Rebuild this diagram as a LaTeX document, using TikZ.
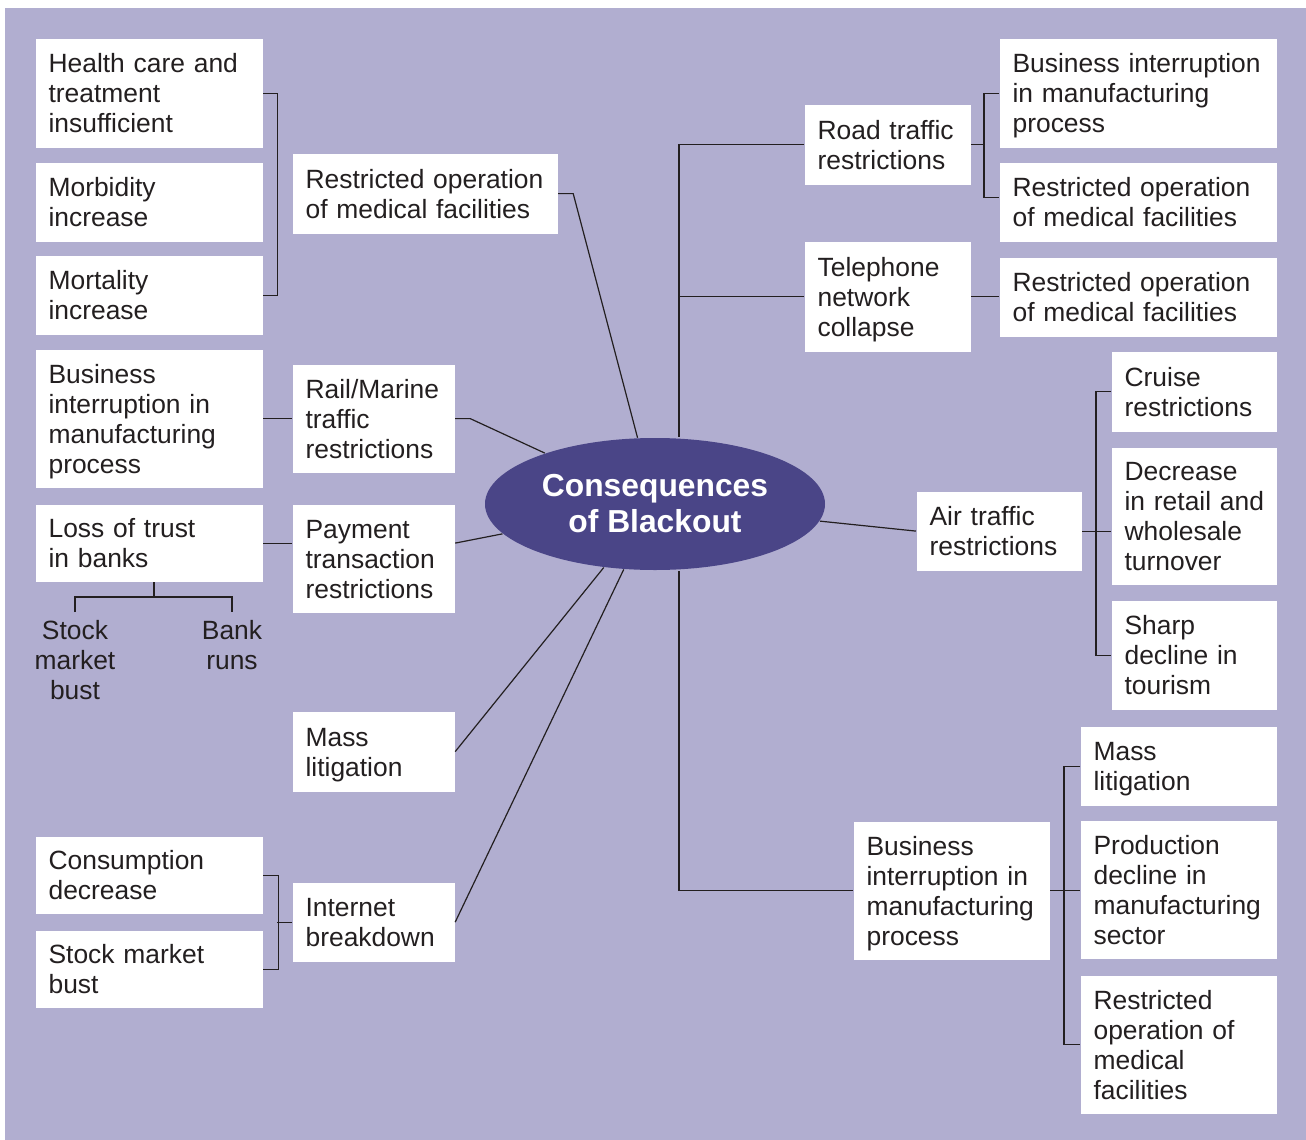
\documentclass[tikz,border=0pt]{standalone}
\usepackage{fontspec}
\setmainfont{Liberation Sans}
\usetikzlibrary{shapes.geometric}
\definecolor{lavender}{RGB}{177,174,208}
\definecolor{deepviolet}{RGB}{74,69,135}
\definecolor{inkgray}{RGB}{35,31,32}
\begin{document}
\begin{tikzpicture}[x=0.5pt,y=-0.5pt,line width=0.6pt,draw=inkgray,
    box/.style={rectangle,fill=white,anchor=north west,align=left,inner xsep=6.5pt,inner ysep=0pt,text=inkgray,font=\fontsize{13.2}{15}\selectfont,
        execute at begin node={\rule{0pt}{12.4pt}},execute at end node={\rule[-3pt]{0pt}{3pt}}},
    two line/.style={minimum height=39.5pt},
    three line/.style={minimum height=54.5pt},
    four line/.style={minimum height=69pt},
    left col/.style={text width=100.5pt},
    mid col/.style={text width=68pt},
    far col/.style={text width=125.5pt},
    leaf/.style={align=center,anchor=north,inner sep=4pt,text=inkgray,font=\fontsize{13.2}{15}\selectfont},
    main node/.style={ellipse,fill=deepviolet,text=white,align=center,inner sep=0pt,minimum width=170pt,minimum height=66pt,font=\fontsize{15.9}{18}\bfseries}]
    \useasboundingbox (0,0) rectangle (1306,1140);
    \fill[lavender] (5,8) rectangle (1306,1140);

    \node[main node] at (655,504) (blackout) {Consequences\\of Blackout};

    % left side
    \node[box,left col,three line] at (35,38) (health) {Health care and\\treatment\\insufficient};
    \node[box,left col,two line] at (35,162) (morb) {Morbidity\\increase};
    \node[box,left col,two line] at (35,255) (mort) {Mortality\\increase};
    \node[box,left col,four line] at (35,349) (biz1) {Business\\interruption in\\manufacturing\\process};
    \node[box,left col,minimum height=38.5pt] at (35,504) (trust) {Loss of trust\\in banks};
    \node[leaf] at (75,612) (stock) {Stock\\market\\bust};
    \node[leaf] at (232,612) (bank) {Bank\\runs};
    \node[box,left col,minimum height=38.5pt] at (35,836) (consum) {Consumption\\decrease};
    \node[box,left col,minimum height=38.5pt] at (35,930) (stockb) {Stock market\\bust};

    \node[box,text width=119.5pt,minimum height=40pt] at (292,153) (rmed0) {Restricted operation\\of medical facilities};
    \node[box,mid col,minimum height=54pt] at (292,364) (rail) {Rail/Marine\\traffic\\restrictions};
    \node[box,mid col,minimum height=54pt] at (292,504) (pay) {Payment\\transaction\\restrictions};
    \node[box,mid col,minimum height=40pt] at (292,711) (mass1) {Mass\\litigation};
    \node[box,mid col,two line] at (292,882) (inet) {Internet\\breakdown};

    % right side
    \node[box,text width=70pt,minimum height=40pt] at (804,104) (road) {Road traffic\\restrictions};
    \node[box,text width=70pt,minimum height=55pt] at (804,241) (tel) {Telephone\\network\\collapse};
    \node[box,far col,three line] at (999,38) (bimp) {Business interruption\\in manufacturing\\process};
    \node[box,far col,two line] at (999,162) (rmed1) {Restricted operation\\of medical facilities};
    \node[box,far col,two line] at (999,257) (rmed2) {Restricted operation\\of medical facilities};
    \node[box,text width=69.5pt,minimum height=40pt] at (1111,351) (cruise) {Cruise\\restrictions};
    \node[box,text width=69.5pt,minimum height=68.5pt] at (1111,447) (dec) {Decrease\\\mbox{in retail and}\\wholesale\\turnover};
    \node[box,text width=69.5pt,three line] at (1111,600) (sharp) {Sharp\\decline in\\tourism};
    \node[box,text width=69.5pt,two line] at (916,491) (air) {Air traffic\\restrictions};
    \node[box,text width=85pt,four line] at (853,821) (biz2) {Business\\interruption in\\manufacturing\\process};
    \node[box,text width=85pt,two line] at (1080,726) (mass2) {Mass\\litigation};
    \node[box,text width=85pt,four line] at (1080,820) (prod) {Production\\decline in\\manufacturing\\sector};
    \node[box,text width=85pt,four line] at (1080,975) (rmed3) {Restricted\\operation of\\medical\\facilities};

    \coordinate (fork) at (154,597);
    \coordinate (trunk) at (679,0);

    % connectors to the centre
    \draw (rmed0.east) -- ++(15,0) -- (blackout);
    \draw (rail.east) -- ++(15,0) -- (blackout);
    \draw (pay.east |- trust.east) -- (blackout);
    \draw (mass1.east) -- (blackout);
    \draw (inet.east) -- (blackout);
    \draw (air.west) -- (blackout);
    \draw (road.west) -- (trunk |- road.west) -- (trunk |- blackout.north);
    \draw (tel.west) -- (trunk |- tel.west);
    \draw (biz2.west) -- (trunk |- biz2.west) -- (trunk |- blackout.south);

    % brackets
    \draw (health.east) -- ++(14,0) |- (mort.east);
    \draw (biz1.east) -- (biz1.east -| rail.west);
    \draw (trust.east) -- (trust.east -| pay.west);
    \draw (fork |- trust.south) -- (fork);
    \draw (stock.north) |- (fork) -| (bank.north);
    \draw (consum.east) -- ++(15,0) |- (stockb.east);
    \draw (inet.west) -- ++(-15,0);
    \draw (road.east) -- ++(14,0);
    \draw (bimp.west) -- ++(-15,0) |- ([yshift=2.5pt]rmed1.west);
    \draw (tel.east) -- (tel.east -| rmed2.west);
    \draw (cruise.west) -- ++(-15,0) |- (sharp.west);
    \draw (air.east) -- (air.east -| dec.west);
    \draw (mass2.west) -- ++(-16,0) |- (rmed3.west);
    \draw (biz2.east) -- (biz2.east -| prod.west);
\end{tikzpicture}
\end{document}
